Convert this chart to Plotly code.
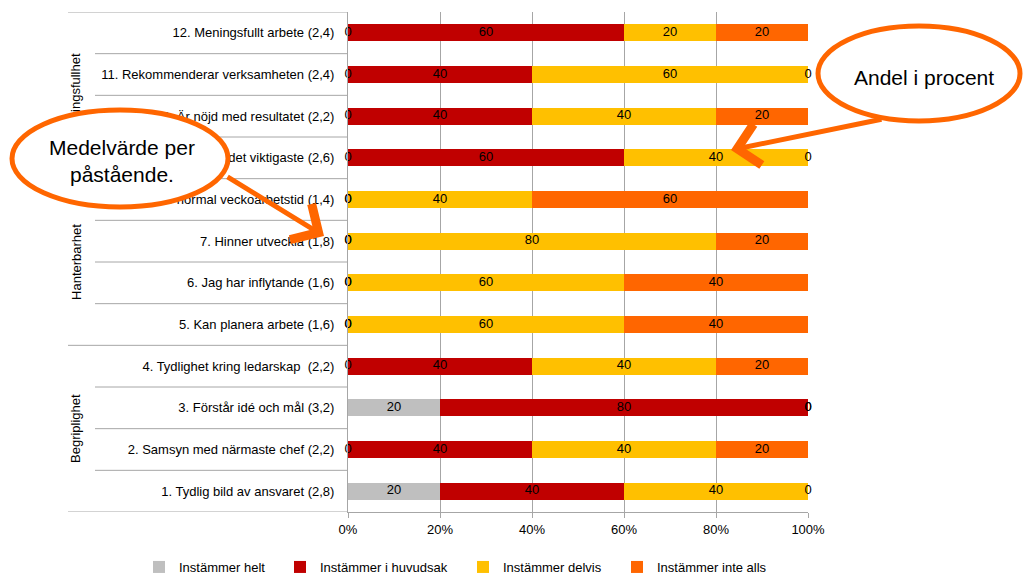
import plotly.graph_objects as go

# ---------------- data ----------------
statements = [
    "1. Tydlig bild av ansvaret (2,8)",
    "2. Samsyn med närmaste chef (2,2)",
    "3. Förstår idé och mål (3,2)",
    "4. Tydlighet kring ledarskap  (2,2)",
    "5. Kan planera arbete (1,6)",
    "6. Jag har inflytande (1,6)",
    "7. Hinner utveckla (1,8)",
    "8. Klarar normal veckoarbetstid (1,4)",
    "9. Gör det viktigaste (2,6)",
    "10. Är nöjd med resultatet (2,2)",
    "11. Rekommenderar verksamheten (2,4)",
    "12. Meningsfullt arbete (2,4)",
]
series_names = ["Instämmer helt", "Instämmer i huvudsak", "Instämmer delvis", "Instämmer inte alls"]
helt      = [20, 0, 20, 0, 0, 0, 0, 0, 0, 0, 0, 0]
huvudsak  = [40, 40, 80, 40, 0, 0, 0, 0, 60, 40, 40, 60]
delvis    = [40, 40, 0, 40, 60, 60, 80, 40, 40, 40, 60, 20]
inte_alls = [0, 20, 0, 20, 40, 40, 20, 60, 0, 20, 0, 20]
groups = [("Begriplighet", 0, 3), ("Hanterbarhet", 4, 7), ("Meningsfullhet", 8, 11)]
x_ticks = [0, 20, 40, 60, 80, 100]
x_ticktext = ["0%", "20%", "40%", "60%", "80%", "100%"]
callout_mean = "Medelvärde per<br>påstående."
callout_share = "Andel i procent"

# ---------------- style ----------------
colors = ["#BFBFBF", "#C00000", "#FFC000", "#FF6600"]
legend_text_x = [179, 320, 503, 657]   # pixel where each legend text starts
ORANGE = "#FF6600"
GRID = "#A6A6A6"
FONT = "Liberation Sans, Arial, sans-serif"
FS = 13

W, H = 1026, 576
L, R, T, B = 348, 808, 12, 512   # plot area in pixels


def px(x):
    return (x - L) / (R - L)


def py(y):
    return (B - y) / (B - T)


fig = go.Figure()
all_series = [helt, huvudsak, delvis, inte_alls]
legend_ids = ["legend", "legend2", "legend3", "legend4"]

for name, vals, col, lid in zip(series_names, all_series, colors, legend_ids):
    fig.add_trace(go.Bar(
        y=statements, x=vals, name=name, orientation="h",
        marker=dict(color=col, line=dict(width=0)),
        hoverinfo="x+name", legend=lid,
    ))

# value labels (including zeros), placed at segment midpoints
cum = [0] * len(statements)
for name, vals in zip(series_names, all_series):
    mids = [c + v / 2 for c, v in zip(cum, vals)]
    fig.add_trace(go.Scatter(
        y=statements, x=mids, mode="text", text=[str(v) for v in vals],
        textfont=dict(family=FONT, size=FS, color="#000000"),
        showlegend=False, hoverinfo="skip", cliponaxis=False,
    ))
    cum = [c + v for c, v in zip(cum, vals)]

shapes = []
n = len(statements)
# row separators in the label area
for k in range(n - 1):
    is_group = any(k == g[2] for g in groups[:-1])
    shapes.append(dict(type="line", xref="paper", yref="y",
                       x0=px(68 if is_group else 95), x1=0,
                       y0=k + 0.5, y1=k + 0.5,
                       line=dict(color=GRID, width=1)))
for yy in (-0.5, n - 0.5):
    shapes.append(dict(type="line", xref="paper", yref="y",
                       x0=px(68), x1=0, y0=yy, y1=yy,
                       line=dict(color=GRID, width=1)))
# group labels (rotated)
for gname, a, b in groups:
    shapes.append(dict(type="rect", xref="paper", yref="y",
                       x0=px(64), x1=px(86), y0=a - 0.5, y1=b + 0.5,
                       line=dict(width=0), fillcolor="rgba(0,0,0,0)",
                       label=dict(text=gname, textangle=-90,
                                  textposition="middle center",
                                  font=dict(family=FONT, size=FS, color="#000000"))))
# callout ellipses
shapes.append(dict(type="circle", xref="paper", yref="paper",
                   x0=px(12), x1=px(228), y0=py(207), y1=py(110),
                   line=dict(color=ORANGE, width=5), fillcolor="white", layer="above"))
shapes.append(dict(type="circle", xref="paper", yref="paper",
                   x0=px(818), x1=px(1020), y0=py(121), y1=py(26),
                   line=dict(color=ORANGE, width=5), fillcolor="white", layer="above"))

annotations = [
    dict(xref="paper", yref="paper", x=px(122), y=py(161), xanchor="center", yanchor="middle",
         text=callout_mean, showarrow=False,
         font=dict(family=FONT, size=21, color="#000000")),
    dict(xref="paper", yref="paper", x=px(924), y=py(77), xanchor="center", yanchor="middle",
         text=callout_share, showarrow=False,
         font=dict(family=FONT, size=21, color="#000000")),
    dict(xref="paper", yref="paper", x=px(324), y=py(236), ax=226 - 324, ay=176 - 236,
         text="", showarrow=True, arrowhead=4, arrowsize=1.6, arrowwidth=5,
         arrowcolor=ORANGE, standoff=0, startstandoff=0),
    dict(xref="paper", yref="paper", x=px(731), y=py(150), ax=883 - 731, ay=119 - 150,
         text="", showarrow=True, arrowhead=4, arrowsize=1.6, arrowwidth=5,
         arrowcolor=ORANGE, standoff=0, startstandoff=0),
]

legend_layout = {}
for lid, tx in zip(legend_ids, legend_text_x):
    legend_layout[lid] = dict(
        orientation="h", xref="container", yref="container",
        x=(tx - 40) / W, xanchor="left", y=(H - 567) / H, yanchor="middle",
        font=dict(family=FONT, size=FS, color="#000000"),
        itemwidth=30, bgcolor="rgba(0,0,0,0)",
    )

fig.update_layout(
    width=W, height=H,
    margin=dict(l=L, r=W - R, t=T, b=H - B, pad=0, autoexpand=False),
    barmode="stack", bargap=0.59,
    plot_bgcolor="white", paper_bgcolor="white",
    font=dict(family=FONT, size=FS, color="#000000"),
    shapes=shapes, annotations=annotations,
    showlegend=True,
    **legend_layout,
)
fig.update_xaxes(range=[0, 100], tickvals=x_ticks, ticktext=x_ticktext,
                 showgrid=True, gridcolor=GRID, gridwidth=1,
                 showline=True, linecolor=GRID, linewidth=1,
                 ticks="outside", ticklen=5, tickcolor=GRID,
                 zeroline=False, tickfont=dict(family=FONT, size=FS, color="#000000"))
fig.update_yaxes(type="category", categoryorder="array", categoryarray=statements,
                 range=[-0.5, n - 0.5], showgrid=False, zeroline=False,
                 showline=True, linecolor=GRID, linewidth=1, ticks="",
                 ticklabelstandoff=10, tickfont=dict(family=FONT, size=FS, color="#000000"))

fig.write_html("out.html", config={"displayModeBar": False},
               post_script="document.body.style.margin='0';document.body.style.overflow='hidden';")
